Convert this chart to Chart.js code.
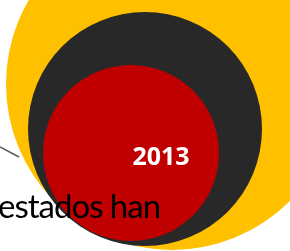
<!DOCTYPE html>
<html>
<head>
<meta charset="utf-8">
<script src="https://cdn.jsdelivr.net/npm/chart.js@4/dist/chart.umd.min.js"></script>
<style>
  html, body { margin: 0; padding: 0; background: #fff; overflow: hidden; }
  #wrap { width: 290px; height: 251px; }
</style>
</head>
<body>
<div id="wrap"><canvas id="myChart" width="290" height="251"></canvas></div>
<script>
// data (x/y on a 0-100 grid, r = bubble radius)
const circleNames = ['outer', 'middle', '2013'];
const circleX = [59.31, 50.0, 45.17];
const circleY = [66.53, 48.61, 39.04];
const circleR = [166, 117, 88];
const circleColors = ['#FFC000', '#282828', '#C00000'];

// leader line pointing into the circles
const leaderX = [0, 6.55];
const leaderY = [41.43, 37.45];

const yearLabel = '2013';
const captionText = 'estados han';

const ctx = document.getElementById('myChart').getContext('2d');

const bubbleData = circleX.map((x, i) => ({ x: x, y: circleY[i], r: circleR[i] }));
const leaderData = leaderX.map((x, i) => ({ x: x, y: leaderY[i] }));

// year inside the red circle + caption text on top
const textPlugin = {
	id: 'textPlugin',
	afterDatasetsDraw(chart) {
		const c = chart.ctx;
		const red = chart.getDatasetMeta(1).data[2];
		c.save();
		c.fillStyle = '#ffffff';
		c.font = 'bold 25px "Open Sans"';
		c.textAlign = 'center';
		c.textBaseline = 'alphabetic';
		c.fillText(yearLabel, red.x + 30, red.y + 12);

		c.fillStyle = '#000000';
		c.font = '33px Lato';
		c.letterSpacing = '-1px';
		c.textAlign = 'left';
		c.fillText(captionText, -2, 218);
		c.restore();
	}
};

const chart = new Chart(ctx, {
	type: 'bubble',
	data: {
		labels: circleNames,
		datasets: [{
			type: 'line',
			data: leaderData,
			borderColor: '#595959',
			borderWidth: 1.5,
			pointRadius: 0,
			fill: false,
			order: 0
		}, {
			data: bubbleData,
			backgroundColor: circleColors,
			borderWidth: 0,
			hoverRadius: 0,
			order: 1
		}]
	},
	plugins: [textPlugin],
	options: {
		responsive: false,
		animation: false,
		events: [],
		layout: { padding: 0, autoPadding: false },
		plugins: {
			legend: { display: false },
			tooltip: { enabled: false }
		},
		scales: {
			x: { type: 'linear', min: 0, max: 100, display: false },
			y: { type: 'linear', min: 0, max: 100, display: false }
		}
	}
});
</script>
</body>
</html>
